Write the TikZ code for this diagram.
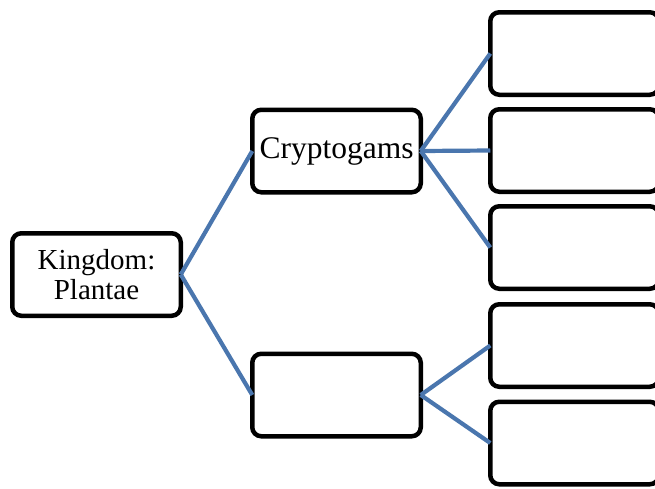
\documentclass[tikz,border=0pt]{standalone}
\usepackage{fontspec}
\setmainfont{Liberation Serif}
\definecolor{linkblue}{HTML}{4A76AE}
\begin{document}
\begin{tikzpicture}[x=1pt,y=-1pt,
  box/.style={draw=black, line width=4.5pt, rounded corners=9pt, fill=white,
    minimum width=168.5pt, minimum height=82.5pt, inner sep=0pt, outer sep=0pt, align=center},
  link/.style={draw=linkblue, line width=4.2pt}]
\useasboundingbox (0,0) rectangle (655,488);
\clip (0,0) rectangle (655,488);
\node[box, font=\fontsize{29}{30}\selectfont] (K) at (96.5,274.5) {Kingdom:\\Plantae};
\node[box, font=\fontsize{31.5}{33}\selectfont] (C) at (336.5,151) {Cryptogams};
\node[box] (L) at (336.5,395) {};
\node[box] (R1) at (574.5,53.5) {};
\node[box] (R2) at (574.5,150.5) {};
\node[box] (R3) at (574.5,247.5) {};
\node[box] (R4) at (574.5,345.5) {};
\node[box] (R5) at (574.5,443) {};
\draw[link] (K.east) -- (C.west);
\draw[link] (K.east) -- (L.west);
\draw[link] (C.east) -- (R1.west);
\draw[link] (C.east) -- (R2.west);
\draw[link] (C.east) -- (R3.west);
\draw[link] (L.east) -- (R4.west);
\draw[link] (L.east) -- (R5.west);
\end{tikzpicture}
\end{document}
